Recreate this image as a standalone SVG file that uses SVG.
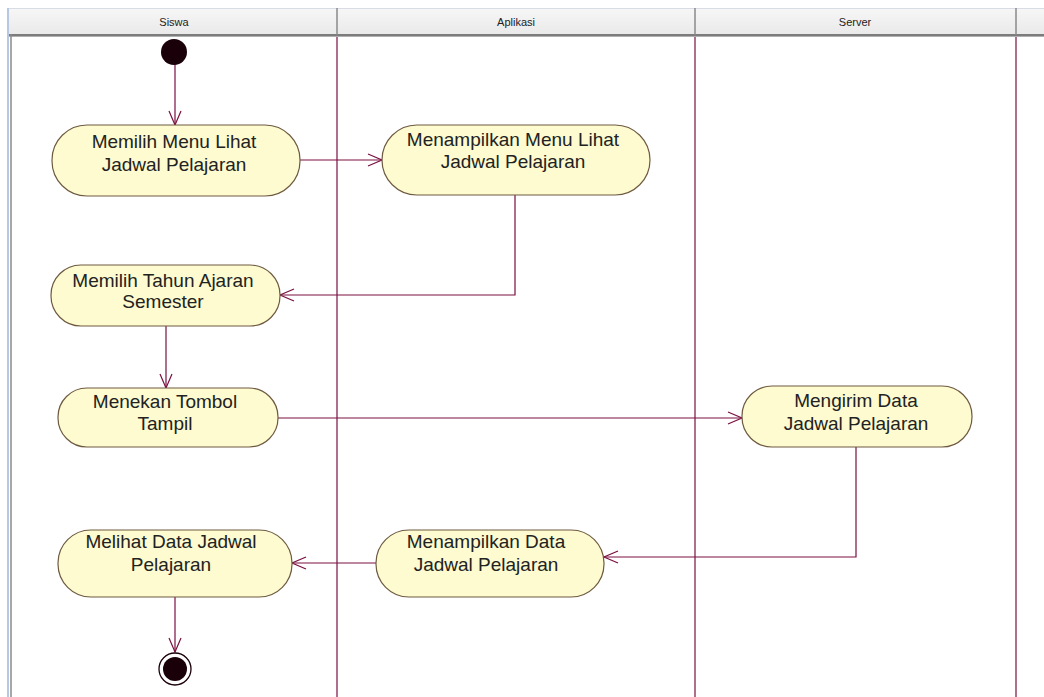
<svg xmlns="http://www.w3.org/2000/svg" width="1044" height="697" viewBox="0 0 1044 697">
  <defs>
    <linearGradient id="hdr" x1="0" y1="0" x2="0" y2="1">
      <stop offset="0" stop-color="#f7f7f7"/>
      <stop offset="1" stop-color="#e9e9e9"/>
    </linearGradient>
    <marker id="open" markerUnits="userSpaceOnUse" markerWidth="16" markerHeight="14" refX="14" refY="7" orient="auto" overflow="visible">
      <path d="M0,1 L14,7 L0,13" fill="none" stroke="#7a1040" stroke-width="1.2"/>
    </marker>
  </defs>
  <style>
    .lane { stroke: #7a1040; stroke-width: 1.2; }
    .hdiv { stroke: #8a8a8a; stroke-width: 1.5; }
    .htext { font-family: "Liberation Sans", Arial, sans-serif; font-size: 11px; fill: #222; text-anchor: middle; }
    .act { fill: #fdfbcf; stroke: #6e5a40; stroke-width: 1.2; }
    .label { font-family: "Liberation Sans", Arial, sans-serif; font-size: 19px; fill: #222; text-anchor: middle; }
    .flow { fill: none; stroke: #7a1040; stroke-width: 1.2; marker-end: url(#open); }
  </style>

  <rect width="1044" height="697" fill="#ffffff"/>

  <!-- swimlane headers -->
  <g id="header">
    <rect x="9" y="8" width="1035" height="27" fill="url(#hdr)"/>
    <line x1="9" y1="8.5" x2="1044" y2="8.5" stroke="#d8dde4" stroke-width="1"/>
    <line x1="9" y1="35" x2="1044" y2="35" stroke="#7c7c7c" stroke-width="2"/>
    <line x1="9" y1="36.5" x2="1044" y2="36.5" stroke="#b0b0b0" stroke-width="1"/>
    <line x1="8" y1="8" x2="8" y2="697" stroke="#b7c8e2" stroke-width="2"/>
    <line x1="11" y1="34" x2="11" y2="697" stroke="#8a8a8a" stroke-width="1.5"/>
    <line class="hdiv" x1="337" y1="8" x2="337" y2="35"/>
    <line class="hdiv" x1="695" y1="8" x2="695" y2="35"/>
    <line class="hdiv" x1="1016" y1="8" x2="1016" y2="35"/>
    <text class="htext" x="174" y="26">Siswa</text>
    <text class="htext" x="516" y="26">Aplikasi</text>
    <text class="htext" x="855" y="26">Server</text>
  </g>

  <!-- lane dividers -->
  <g id="lanes">
    <line class="lane" x1="337" y1="37" x2="337" y2="697"/>
    <line class="lane" x1="695" y1="37" x2="695" y2="697"/>
    <line class="lane" x1="1016" y1="37" x2="1016" y2="697"/>
  </g>

  <!-- control flows -->
  <g id="connectors">
    <path class="flow" d="M175,60 L175,125"/>
    <path class="flow" d="M300,160 L382,160"/>
    <path class="flow" d="M515,195 L515,295 L280,295"/>
    <path class="flow" d="M166,326 L166,388"/>
    <path class="flow" d="M278,418 L742,418"/>
    <path class="flow" d="M856,447 L856,557 L604,557"/>
    <path class="flow" d="M376,563 L292,563"/>
    <path class="flow" d="M175,597 L175,652"/>
  </g>

  <g id="start">
    <circle cx="174" cy="52" r="13" fill="#1a0008"/>
  </g>

  <g id="memilih-menu">
    <rect class="act" x="52" y="125" width="248" height="71" rx="35" ry="35"/>
    <text class="label" x="174" y="148">Memilih Menu Lihat</text>
    <text class="label" x="174" y="171">Jadwal Pelajaran</text>
  </g>

  <g id="menampilkan-menu">
    <rect class="act" x="382" y="125" width="268" height="70" rx="35" ry="35"/>
    <text class="label" x="513" y="146">Menampilkan Menu Lihat</text>
    <text class="label" x="513" y="168">Jadwal Pelajaran</text>
  </g>

  <g id="memilih-tahun">
    <rect class="act" x="51" y="265" width="229" height="61" rx="30" ry="30"/>
    <text class="label" x="163" y="287">Memilih Tahun Ajaran</text>
    <text class="label" x="163" y="308">Semester</text>
  </g>

  <g id="menekan-tombol">
    <rect class="act" x="58" y="388" width="220" height="59" rx="29" ry="29"/>
    <text class="label" x="165" y="408">Menekan Tombol</text>
    <text class="label" x="165" y="430">Tampil</text>
  </g>

  <g id="mengirim-data">
    <rect class="act" x="742" y="386" width="230" height="61" rx="30" ry="30"/>
    <text class="label" x="856" y="407">Mengirim Data</text>
    <text class="label" x="856" y="430">Jadwal Pelajaran</text>
  </g>

  <g id="menampilkan-data">
    <rect class="act" x="376" y="530" width="228" height="67" rx="33" ry="33"/>
    <text class="label" x="486" y="548">Menampilkan Data</text>
    <text class="label" x="486" y="571">Jadwal Pelajaran</text>
  </g>

  <g id="melihat-data">
    <rect class="act" x="58" y="530" width="234" height="67" rx="33" ry="33"/>
    <text class="label" x="171" y="548">Melihat Data Jadwal</text>
    <text class="label" x="171" y="571">Pelajaran</text>
  </g>

  <g id="end">
    <circle cx="175" cy="669" r="16" fill="#ffffff" stroke="#1a0008" stroke-width="1.3"/>
    <circle cx="175" cy="669" r="12" fill="#1a0008"/>
  </g>
</svg>
